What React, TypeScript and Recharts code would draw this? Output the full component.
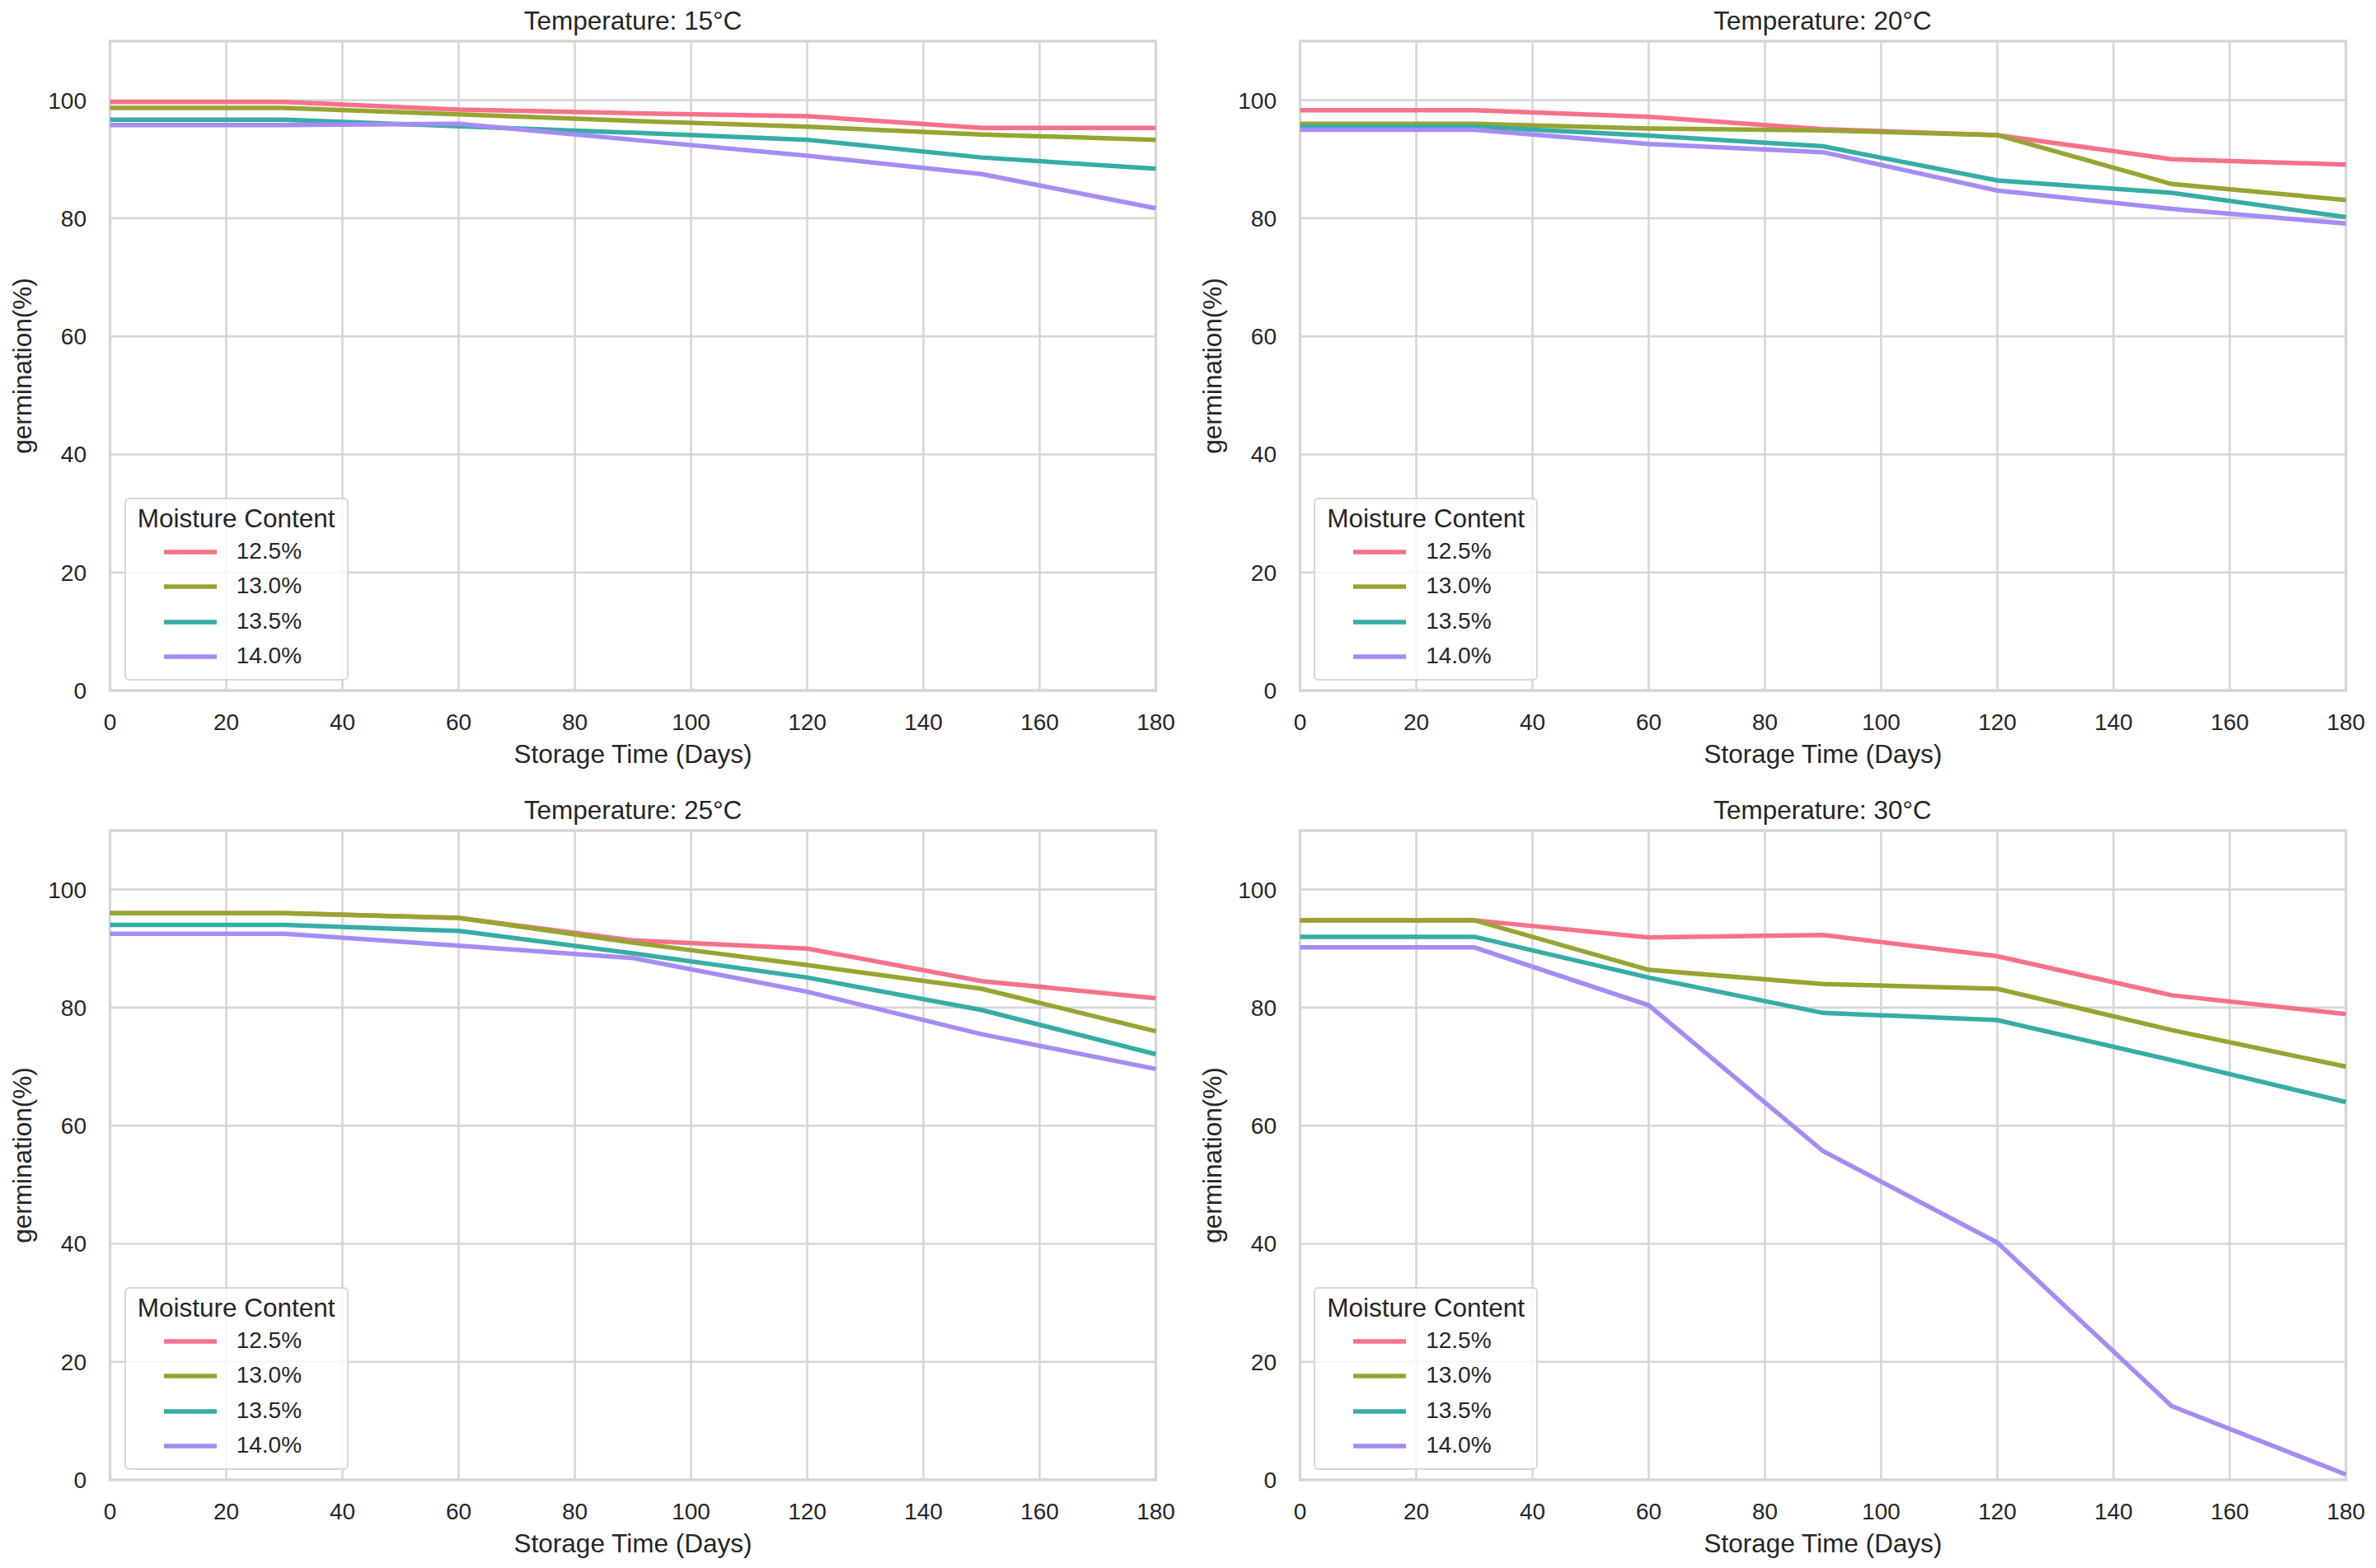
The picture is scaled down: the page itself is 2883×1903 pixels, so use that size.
import React from "react";
import {
  CartesianGrid,
  Label,
  Legend,
  Line,
  LineChart,
  ReferenceArea,
  XAxis,
  YAxis,
} from "recharts";

const DAYS = [0, 30, 60, 90, 120, 150, 180];
const X_TICKS = [0, 20, 40, 60, 80, 100, 120, 140, 160, 180];
const Y_TICKS = [0, 20, 40, 60, 80, 100];

const MOISTURE = ["12.5%", "13.0%", "13.5%", "14.0%"];
const COLORS = ["#f77189", "#97a431", "#36ada4", "#a48cf4"];

// germination (%) per moisture level, one value per storage day
const T15 = [
  [99.7, 99.7, 98.4, 97.8, 97.3, 95.3, 95.3],
  [98.7, 98.7, 97.6, 96.5, 95.5, 94.2, 93.3],
  [96.7, 96.7, 95.6, 94.5, 93.3, 90.3, 88.4],
  [95.8, 95.8, 96.0, 93.3, 90.6, 87.5, 81.7],
];
const T20 = [
  [98.3, 98.3, 97.2, 95.1, 94.1, 90.0, 89.1],
  [96.0, 96.0, 95.2, 94.9, 94.1, 85.8, 83.1],
  [95.5, 95.5, 94.0, 92.2, 86.4, 84.3, 80.2],
  [95.0, 95.0, 92.6, 91.2, 84.7, 81.6, 79.1],
];
const T25 = [
  [96.0, 96.0, 95.2, 91.4, 90.0, 84.5, 81.6],
  [96.0, 96.0, 95.2, 91.0, 87.2, 83.2, 76.0],
  [94.0, 94.0, 93.0, 89.2, 85.1, 79.6, 72.1],
  [92.5, 92.5, 90.5, 88.4, 82.7, 75.5, 69.6],
];
const T30 = [
  [94.8, 94.8, 91.9, 92.3, 88.7, 82.1, 78.9],
  [94.8, 94.8, 86.4, 84.0, 83.2, 76.2, 70.0],
  [92.0, 92.0, 85.1, 79.1, 77.9, 71.1, 64.0],
  [90.2, 90.2, 80.4, 55.7, 40.2, 12.5, 0.9],
];

const PANELS = [
  { title: "Temperature: 15°C", values: T15, left: 0, top: 0 },
  { title: "Temperature: 20°C", values: T20, left: 1443.5, top: 0 },
  { title: "Temperature: 25°C", values: T25, left: 0, top: 958 },
  { title: "Temperature: 30°C", values: T30, left: 1443.5, top: 958 },
];

const KEYS = ["m0", "m1", "m2", "m3"];
const FONT = '"Liberation Sans", Arial, Helvetica, sans-serif';
const TEXT = "#262626";
const GRID = "#d6d6d6";

function buildRows(values: number[][]) {
  return DAYS.map((day, i) => {
    const row: Record<string, number> = { day };
    values.forEach((s, j) => {
      row[KEYS[j]] = s[i];
    });
    return row;
  });
}

function MoistureLegend() {
  return (
    <div
      style={{
        position: "relative",
        width: 272,
        height: 222,
        boxSizing: "border-box",
        border: `2.6px solid ${GRID}`,
        borderRadius: 6,
        background: "rgba(255,255,255,0.8)",
        fontFamily: FONT,
        color: TEXT,
      }}
    >
      <div
        style={{
          position: "absolute",
          left: 0,
          right: 0,
          top: 6,
          textAlign: "center",
          fontSize: 31.5,
          lineHeight: "34px",
        }}
      >
        Moisture Content
      </div>
      {MOISTURE.map((m, i) => (
        <div
          key={m}
          style={{ position: "absolute", left: 0, top: 64 + i * 42.3 - 21, height: 42 }}
        >
          <svg width={120} height={42} style={{ position: "absolute", left: 0, top: 0 }}>
            <line x1={46} x2={110} y1={21} y2={21} stroke={COLORS[i]} strokeWidth={5.5} />
          </svg>
          <span
            style={{
              position: "absolute",
              left: 134,
              top: 4,
              fontSize: 28,
              lineHeight: "32px",
              whiteSpace: "nowrap",
            }}
          >
            {m}
          </span>
        </div>
      ))}
    </div>
  );
}

function Panel({ title, values, left, top }: (typeof PANELS)[number]) {
  const rows = buildRows(values);
  return (
    <div style={{ position: "absolute", left, top, width: 1440, height: 945 }}>
      <div
        style={{
          position: "absolute",
          left: 133.5,
          width: 1269,
          top: 10,
          textAlign: "center",
          fontSize: 31.5,
          lineHeight: "31.5px",
          color: TEXT,
        }}
      >
        {title}
      </div>
      <LineChart
        width={1440}
        height={945}
        data={rows}
        margin={{ top: 50, right: 37.5, left: 0, bottom: 7 }}
      >
        <CartesianGrid stroke={GRID} strokeWidth={2.6} />
        <XAxis
          dataKey="day"
          type="number"
          domain={[0, 180]}
          ticks={X_TICKS}
          interval={0}
          height={100}
          tickLine={false}
          axisLine={false}
          tickMargin={22.5}
          tick={{ fill: TEXT, fontSize: 28 }}
        >
          <Label
            value="Storage Time (Days)"
            position="insideBottom"
            offset={12}
            style={{ fill: TEXT, fontSize: 31.5 }}
          />
        </XAxis>
        <YAxis
          type="number"
          domain={[0, 110]}
          ticks={Y_TICKS}
          interval={0}
          width={133.5}
          tickLine={false}
          axisLine={false}
          tickMargin={22.5}
          tick={{ fill: TEXT, fontSize: 28 }}
        >
          <Label
            value="germination(%)"
            angle={-90}
            position="insideLeft"
            offset={27}
            style={{ fill: TEXT, fontSize: 31.5, textAnchor: "middle" }}
          />
        </YAxis>
        {KEYS.map((k, i) => (
          <Line
            key={k}
            type="linear"
            dataKey={k}
            name={MOISTURE[i]}
            stroke={COLORS[i]}
            strokeWidth={5.5}
            dot={false}
            activeDot={false}
            isAnimationActive={false}
          />
        ))}
        <ReferenceArea
          x1={0}
          x2={180}
          y1={0}
          y2={110}
          fill="none"
          stroke={GRID}
          strokeWidth={3.3}
        />
        <Legend
          layout="vertical"
          align="center"
          verticalAlign="middle"
          wrapperStyle={{ left: 150.7, top: 604, width: 272, height: 222 }}
          content={() => <MoistureLegend />}
        />
      </LineChart>
    </div>
  );
}

export default function App() {
  return (
    <div
      style={{
        position: "fixed",
        left: 0,
        top: 0,
        width: 2883,
        height: 1903,
        background: "#ffffff",
        fontFamily: FONT,
      }}
    >
      {PANELS.map((p) => (
        <Panel key={p.title} {...p} />
      ))}
    </div>
  );
}
